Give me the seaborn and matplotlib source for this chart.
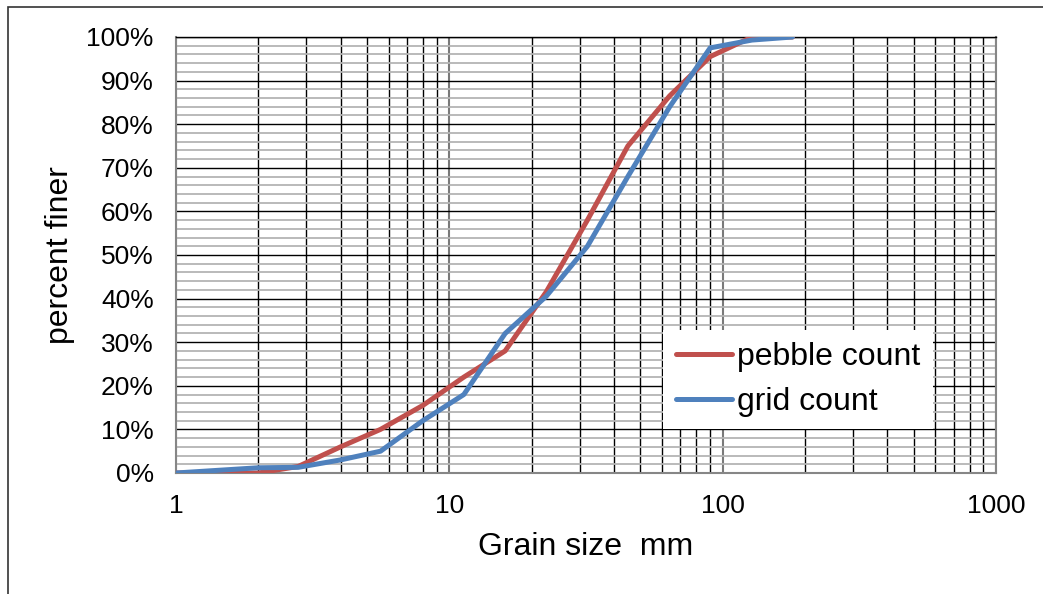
import matplotlib
matplotlib.use("Agg")
import matplotlib.pyplot as plt
import matplotlib.ticker as mticker
from matplotlib.patches import Rectangle
import pandas as pd
import seaborn as sns

# Sieve sizes (mm) and cumulative percent finer
sizes = [1, 2, 2.8, 4, 5.6, 8, 11.3, 16, 22.6, 32, 45, 64, 90, 128, 180]
pebble_count = [0, 0, 1.5, 6, 10, 15.5, 22, 28, 41.5, 58, 75, 86.5, 95.5, 100, 100]
grid_count = [0, 1.2, 1.3, 3, 5, 12, 18, 32, 40.5, 52, 68, 84, 97.5, 99.3, 100]
series_names = ["pebble count", "grid count"]
series_colors = ["#C0504D", "#4F81BD"]

df = pd.concat(
    [
        pd.DataFrame({"size": sizes, "finer": pebble_count, "series": series_names[0]}),
        pd.DataFrame({"size": sizes, "finer": grid_count, "series": series_names[1]}),
    ],
    ignore_index=True,
)

sns.set_style("white")
plt.rcParams["font.family"] = ["Liberation Sans", "DejaVu Sans"]
plt.rcParams["text.color"] = "black"
plt.rcParams["axes.labelcolor"] = "black"

fig = plt.figure(figsize=(10.43, 5.94), dpi=100)
ax = fig.add_axes([176 / 1043, 1 - 473 / 594, 820 / 1043, 436 / 594])

sns.lineplot(
    data=df,
    x="size",
    y="finer",
    hue="series",
    palette=series_colors,
    sort=False,
    linewidth=3.6,
    ax=ax,
    zorder=5,
)
for line in ax.get_lines():
    line.set_solid_joinstyle("round")
    line.set_solid_capstyle("round")

ax.set_xscale("log")
ax.set_xlim(1, 1000)
ax.set_ylim(0, 100)

ax.xaxis.set_major_locator(mticker.FixedLocator([1, 10, 100, 1000]))
ax.xaxis.set_major_formatter(mticker.FixedFormatter(["1", "10", "100", "1000"]))
ax.xaxis.set_minor_locator(mticker.LogLocator(base=10, subs=range(2, 10)))
ax.xaxis.set_minor_formatter(mticker.NullFormatter())
ax.yaxis.set_major_locator(mticker.MultipleLocator(10))
ax.yaxis.set_major_formatter(mticker.FuncFormatter(lambda v, p: f"{int(v)}%"))
ax.yaxis.set_minor_locator(mticker.MultipleLocator(2))

ax.tick_params(which="major", length=5, width=1.1, color="#868686",
               labelsize=19, labelcolor="black")
ax.tick_params(axis="x", which="major", pad=10)
ax.tick_params(axis="y", which="major", pad=11)
ax.tick_params(which="minor", length=0)

ax.set_axisbelow(True)
ax.grid(which="minor", axis="y", color="#b4b4b4", linewidth=1.3)
ax.grid(which="major", axis="y", color="black", linewidth=1.0)
ax.grid(which="minor", axis="x", color="black", linewidth=1.0)
ax.grid(which="major", axis="x", color="#7a7a7a", linewidth=1.5)

for side in ["left", "bottom", "right"]:
    ax.spines[side].set_color("#868686")
    ax.spines[side].set_linewidth(1.5)
ax.spines["top"].set_color("black")
ax.spines["top"].set_linewidth(1.0)

ax.set_xlabel("Grain size  mm", fontsize=23, labelpad=10, color="black")
ax.set_ylabel("percent finer", fontsize=23, labelpad=8, color="black")

leg = ax.legend(
    loc="center",
    bbox_to_anchor=(0.7585, 0.2144),
    fontsize=23,
    frameon=True,
    fancybox=False,
    framealpha=1,
    edgecolor="none",
    handlelength=1.75,
    handletextpad=0.15,
    labelspacing=0.45,
    borderpad=0.4,
)
leg.set_zorder(10)
for h in leg.get_lines():
    h.set_linewidth(3.6)
    h.set_solid_capstyle("round")
for t in leg.get_texts():
    t.set_color("black")

# chart area border
fig.add_artist(Rectangle((8 / 1043, -0.1), 1.2, 1 - 7 / 594 + 0.1,
                         transform=fig.transFigure, fill=False,
                         edgecolor="#333333", linewidth=1.2))

fig.savefig("out.png", dpi=100)
